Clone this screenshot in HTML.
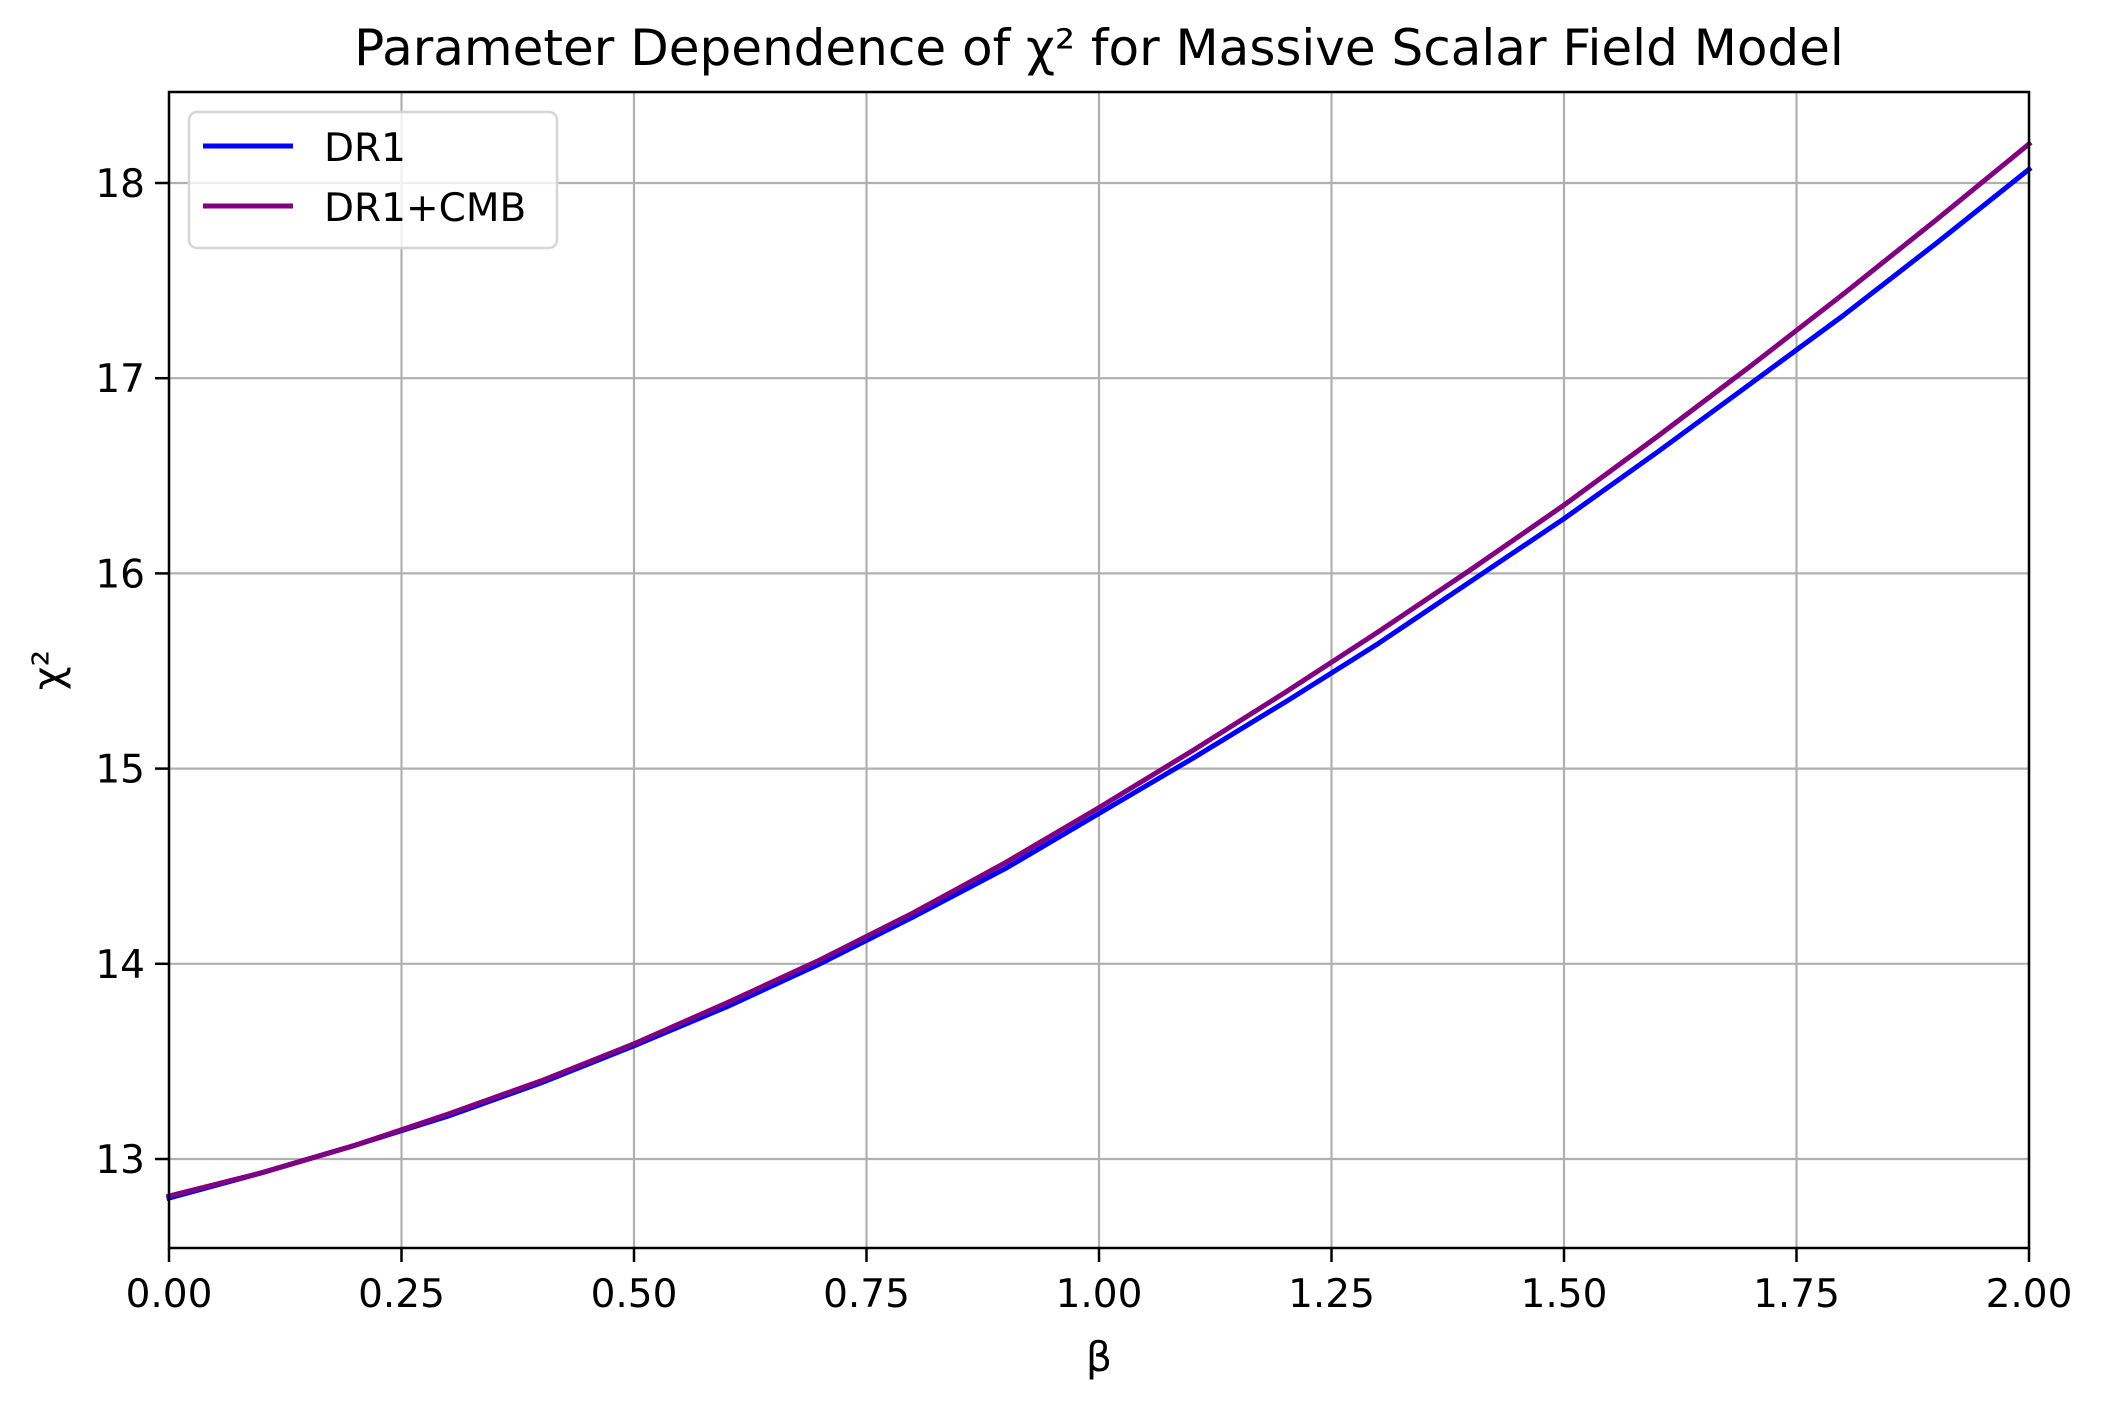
<!DOCTYPE html>
<html><head><meta charset="utf-8"><style>
html,body{margin:0;padding:0;background:#fff}
svg{display:block;font-family:"DejaVu Sans","Liberation Sans",sans-serif}
</style></head><body>
<svg id="chart" width="2105" height="1403" viewBox="0 0 2105 1403" xmlns="http://www.w3.org/2000/svg">
<rect width="2105" height="1403" fill="#fff"/>
<g id="grid"></g>
<g id="series"></g>
<rect x="169" y="92" width="1860" height="1156" fill="none" stroke="#000" stroke-width="2.5"/>
<g id="ticks"></g>
<text x="1099" y="65" font-size="50" text-anchor="middle">Parameter Dependence of χ² for Massive Scalar Field Model</text>
<text x="1099" y="1371" font-size="41" text-anchor="middle">β</text>
<text transform="translate(62,670) rotate(-90)" font-size="41" text-anchor="middle">χ²</text>
<g>
<rect x="189" y="112" width="368" height="136" rx="8" fill="#fff" fill-opacity="0.8" stroke="#d6d6d6" stroke-width="2.5"/>
<line x1="203" y1="146" x2="293" y2="146" stroke="#0000ff" stroke-width="5"/>
<text x="324" y="161" font-size="39">DR1</text>
<line x1="203" y1="206" x2="293" y2="206" stroke="#800080" stroke-width="5"/>
<text x="324" y="221" font-size="39">DR1+CMB</text>
</g>
</svg>
<script>
const betaValues=[0,0.1,0.2,0.3,0.4,0.5,0.6,0.7,0.8,0.9,1.0,1.1,1.2,1.3,1.4,1.5,1.6,1.7,1.8,1.9,2.0];
const dr1Values=[12.80,12.93,13.07,13.22,13.39,13.58,13.78,14.00,14.24,14.49,14.77,15.05,15.34,15.64,15.96,16.28,16.62,16.97,17.32,17.69,18.07];
const dr1CmbValues=[12.81,12.93,13.07,13.23,13.40,13.59,13.80,14.02,14.26,14.52,14.80,15.09,15.39,15.70,16.02,16.35,16.70,17.06,17.43,17.81,18.20];
const xTicks=[0,0.25,0.5,0.75,1.0,1.25,1.5,1.75,2.0];
const xTickLabels=["0.00","0.25","0.50","0.75","1.00","1.25","1.50","1.75","2.00"];
const yTicks=[13,14,15,16,17,18];
const yTickLabels=["13","14","15","16","17","18"];

const L=169,R=2029,T=92,B=1248;
const X=v=>L+(v-0)/(2-0)*(R-L);
const Y=v=>1159+(v-13)*(183-1159)/5;
const NS="http://www.w3.org/2000/svg";
function mk(tag,attrs,parent){const e=document.createElementNS(NS,tag);for(const k in attrs)e.setAttribute(k,attrs[k]);parent.appendChild(e);return e;}
const grid=document.getElementById('grid'),ticks=document.getElementById('ticks'),series=document.getElementById('series');
xTicks.forEach((v,i)=>{
  const g=mk('line',{x1:X(v),x2:X(v),y1:T,y2:B,stroke:'#b0b0b0','stroke-width':2.2},grid);
  
  
  const t=mk('line',{x1:X(v),x2:X(v),y1:B,y2:B+14,stroke:'#000','stroke-width':2.5},ticks);
  
  
  const tx=mk('text',{x:X(v),y:1307,'font-size':39,'text-anchor':'middle'},ticks);
  tx.textContent=xTickLabels[i];
  
  
});
yTicks.forEach((v,i)=>{
  const g=mk('line',{x1:L,x2:R,y1:Y(v),y2:Y(v),stroke:'#b0b0b0','stroke-width':2.2},grid);
  
  
  const t=mk('line',{x1:L-14,x2:L,y1:Y(v),y2:Y(v),stroke:'#000','stroke-width':2.5},ticks);
  
  
  const tx=mk('text',{x:L-24,y:Y(v)+14,'font-size':39,'text-anchor':'end'},ticks);
  tx.textContent=yTickLabels[i];
  
  
});
function line(vals,color,name){
  const d=vals.map((v,i)=>(i?'L':'M')+X(betaValues[i]).toFixed(1)+','+Y(v).toFixed(1)).join(' ');
  const p=mk('path',{d:d,fill:'none',stroke:color,'stroke-width':5,'stroke-linejoin':'round','stroke-linecap':'square'},series);
  
  
}
line(dr1Values,'#0000ff','line-dr1');
line(dr1CmbValues,'#800080','line-dr1-cmb');
</script>
</body></html>
